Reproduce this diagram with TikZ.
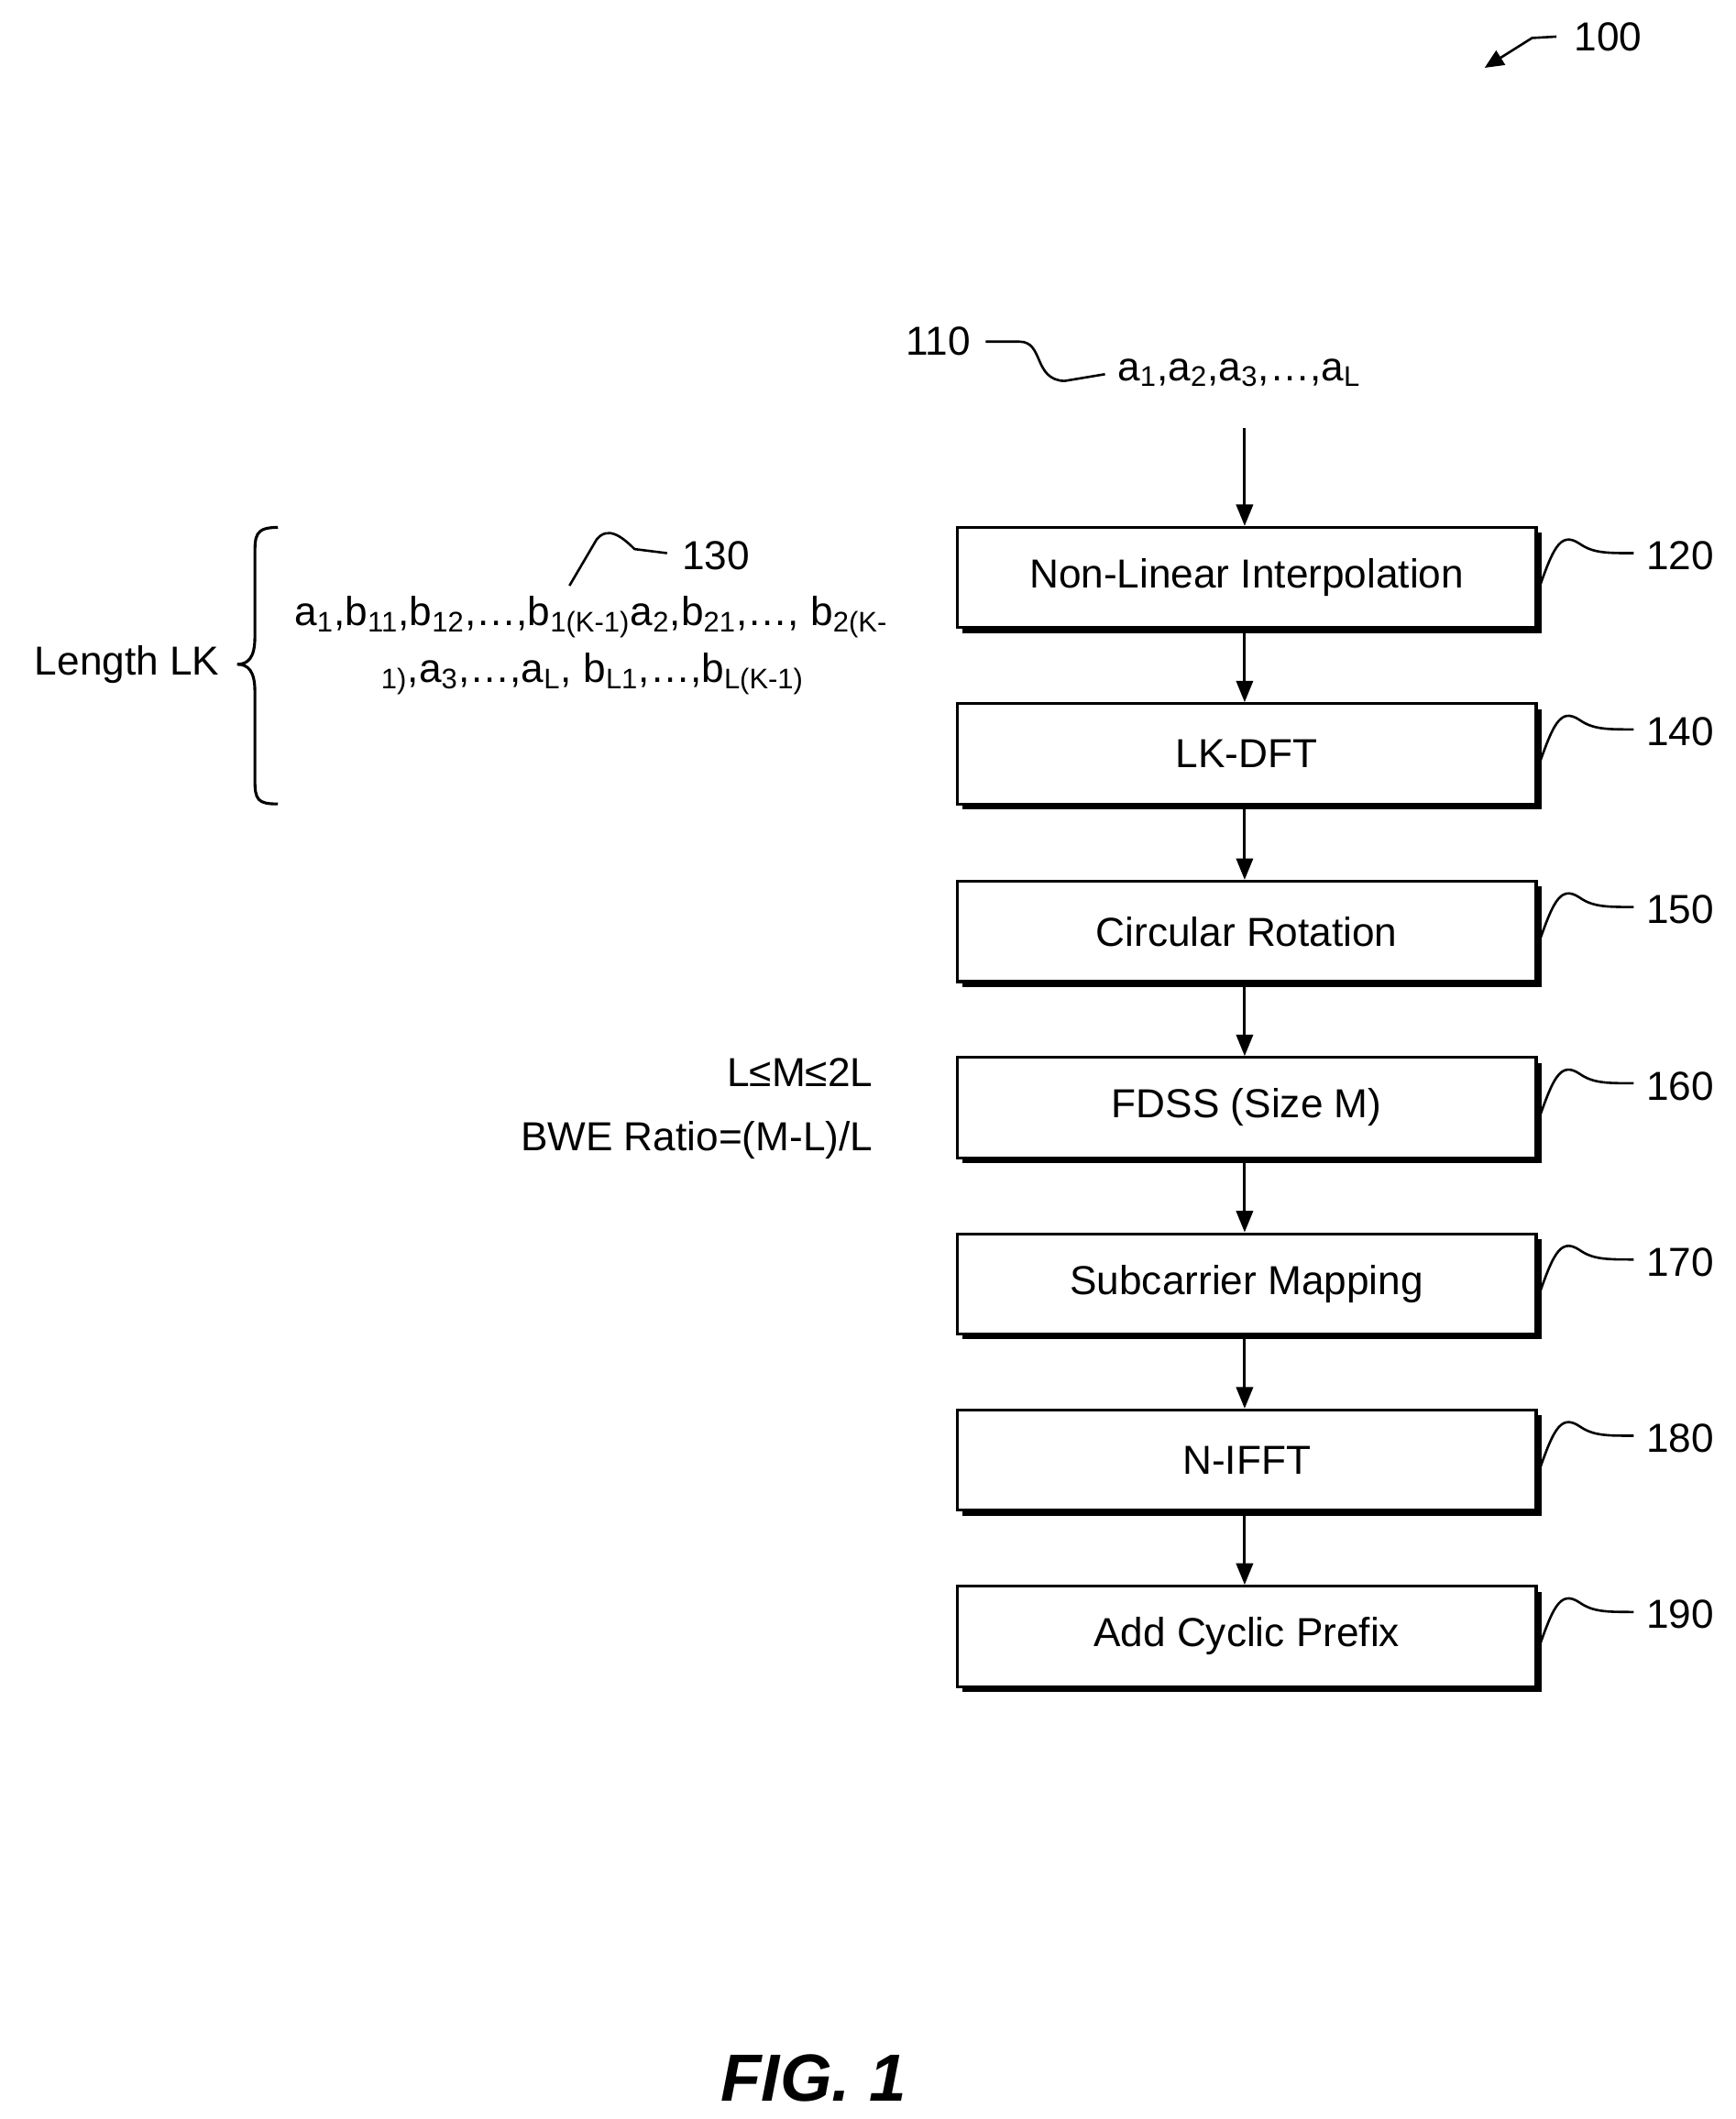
\documentclass[tikz,border=0pt]{standalone}
\usepackage{fontspec}
\setmainfont{Liberation Sans}
\usetikzlibrary{arrows.meta}
\begin{document}
\begin{tikzpicture}[x=0.02cm,y=-0.02cm,
  box/.style={draw,line width=1.2pt,minimum width=427*0.02cm,minimum height=74*0.02cm,font=\fontsize{17}{20}\selectfont,fill=white},
  sh/.style={draw=black,fill=black},
  arr/.style={line width=1.2pt,-{Triangle[length=9pt,width=7pt]}},
  sq/.style={line width=1pt},
  num/.style={font=\fontsize{17}{20}\selectfont,anchor=west},
  txt/.style={font=\fontsize{17}{20}\selectfont}]
\useasboundingbox (0,0) rectangle (1280,1563);
\foreach \n/\y/\t/\lab in {b120/426/Non-Linear Interpolation/120, b140/556/LK-DFT/140, b150/687/Circular Rotation/150, b160/817/FDSS (Size M)/160, b170/947/Subcarrier Mapping/170, b180/1077/N-IFFT/180, b190/1207/Add Cyclic Prefix/190}{
  \fill (710,\y-33) rectangle (1137,\y+41);
  \node[box] (\n) at (919.5,\y) {\t};
  \draw[sq] (1133,\y+14) .. controls (1145,\y-20) and (1150,\y-35) .. (1165,\y-25) .. controls (1175,\y-18) and (1185,\y-18) .. (1205,\y-18);
  \node[num] (l\n) at (1208,\y-16) {\lab};
}
\foreach \a/\b in {b120/b140,b140/b150,b150/b160,b160/b170,b170/b180,b180/b190}
  \draw[arr] (\a.south -| 918,0) -- (\b.north -| 918,0);
\node[txt,anchor=west] (in) at (818,275) {a\textsubscript{1},a\textsubscript{2},a\textsubscript{3},…,a\textsubscript{L}};
\coordinate (inb) at (918,316);
\draw[arr] (inb) -- (b120.north -| 918,0);
\node[num,anchor=east] (l110) at (722,252) {110};
\draw[sq] (727,252) -- (752,252) .. controls (770,252) and (762,280) .. (785,281) -- (815,276);
\node[txt,anchor=west] (seq1) at (211,455) {a\textsubscript{1},b\textsubscript{11},b\textsubscript{12},…,b\textsubscript{1(K-1)}a\textsubscript{2},b\textsubscript{21},…, b\textsubscript{2(K-}};
\node[txt,anchor=west] (seq2) at (275,497) {\textsubscript{1)},a\textsubscript{3},…,a\textsubscript{L}, b\textsubscript{L1},…,b\textsubscript{L(K-1)}};
\draw[sq] (420,432) -- (440,398) .. controls (448,388) and (458,395) .. (468,405) -- (492,408);
\node[num] (l130) at (497,410) {130};
\draw[line width=1.2pt] (205,389) .. controls (188,389) and (188,395) .. (188,410) -- (188,470) .. controls (188,485) and (183,490) .. (175,490) .. controls (183,490) and (188,495) .. (188,510) -- (188,575) .. controls (188,590) and (190,593) .. (205,593);
\node[txt,anchor=east] (len) at (168,490) {Length LK};
\node[txt,anchor=east] (m1) at (650,791) {L≤M≤2L};
\node[txt,anchor=east] (m2) at (650,841) {BWE Ratio=(M-L)/L};
\node[num] (l100) at (1155,27) {100};
\coordinate (a100) at (1095,50);
\draw[sq,-{Triangle[length=8pt,width=7pt]}] (1148,27) -- (1130,28) -- (a100);
\node[font=\fontsize{28}{32}\selectfont\bfseries\itshape] (fig) at (600,1533) {FIG. 1};
\end{tikzpicture}
\end{document}
